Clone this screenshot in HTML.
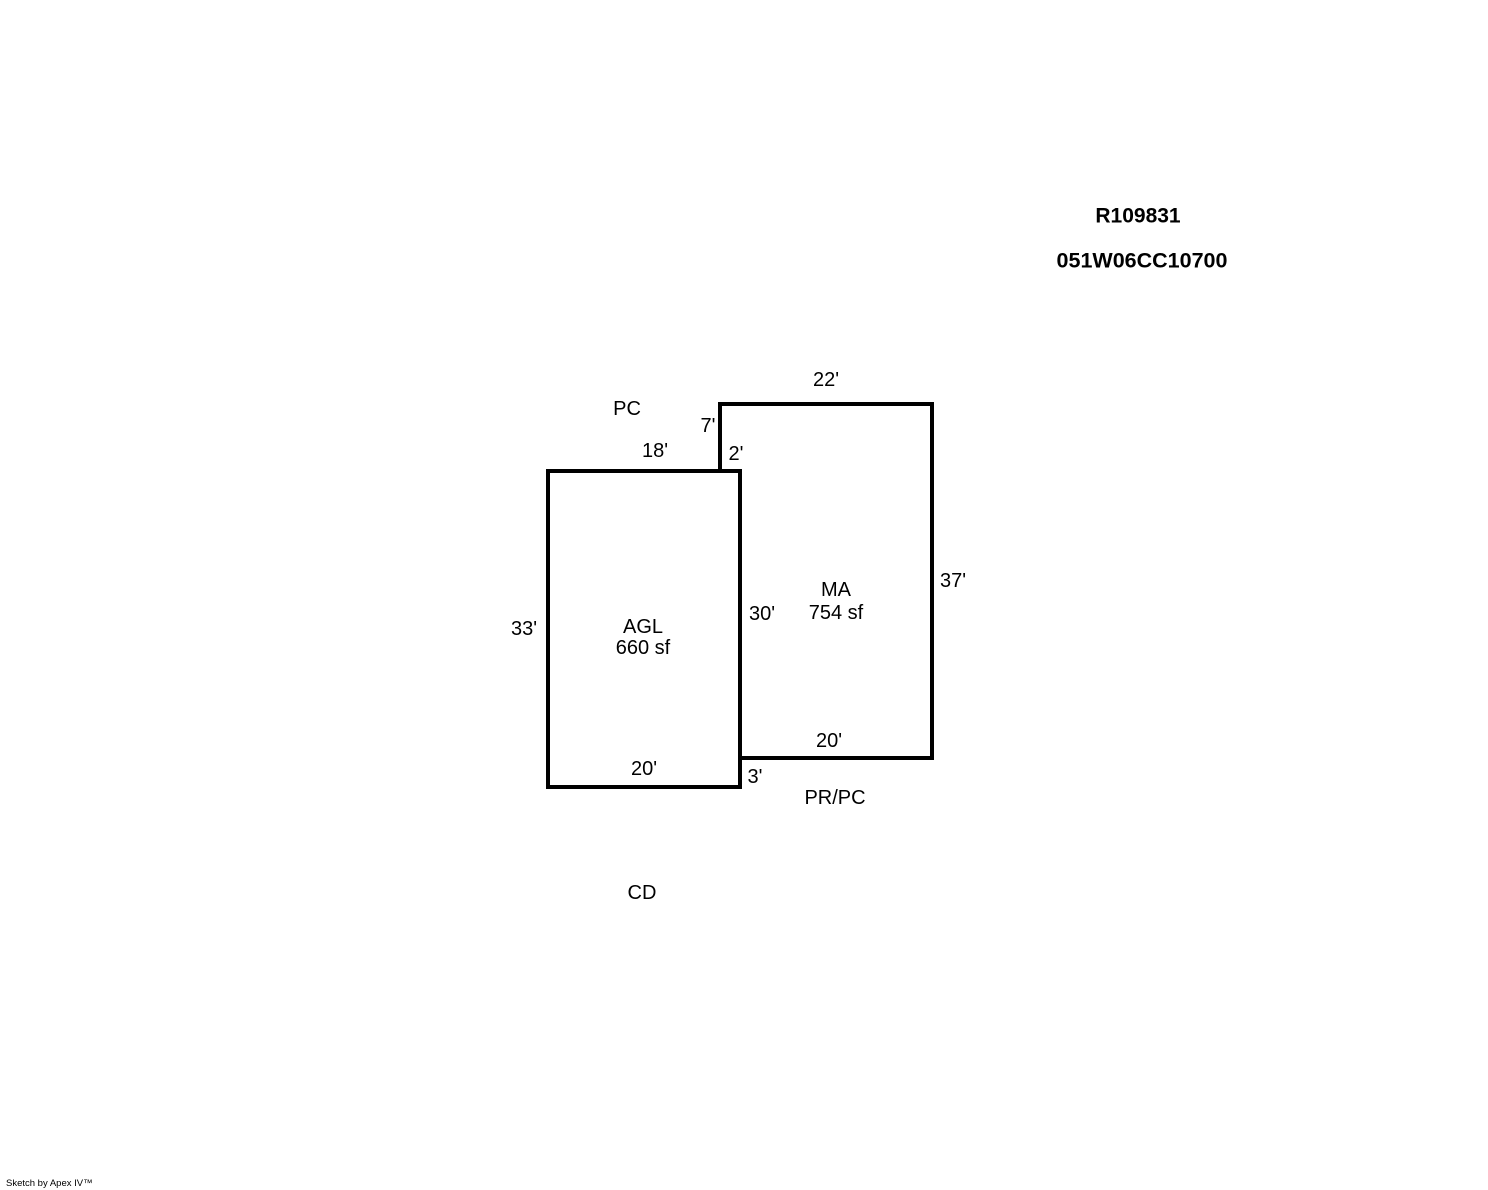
<!DOCTYPE html>
<html><head><style>
body{margin:0;width:1488px;height:1190px;background:#fff;overflow:hidden;font-family:"Liberation Sans",Arial,sans-serif;}
.t{position:absolute;font-size:20px;color:#000;white-space:nowrap;transform:translate(-50%,-50%);line-height:1;}
.c{text-align:center;}
</style></head><body>
<svg width="1488" height="1190" style="position:absolute;left:0;top:0">
<rect x="548" y="471" width="192" height="316" fill="none" stroke="#000" stroke-width="4"/>
<polyline points="740,758 932,758 932,404 720,404 720,471" fill="none" stroke="#000" stroke-width="4"/>
</svg>
<div class="t" style="left:1138px;top:216px;font-weight:bold;font-size:21px">R109831</div>
<div class="t" style="left:1142px;top:261px;font-weight:bold;font-size:21.5px">051W06CC10700</div>
<div class="t" style="left:826px;top:380px">22'</div>
<div class="t" style="left:627px;top:409px">PC</div>
<div class="t" style="left:708px;top:426px">7'</div>
<div class="t" style="left:655px;top:451px">18'</div>
<div class="t" style="left:736px;top:454px">2'</div>
<div class="t c" style="left:836px;top:602px;line-height:23px">MA<br>754 sf</div>
<div class="t" style="left:953px;top:581px">37'</div>
<div class="t" style="left:762px;top:614px">30'</div>
<div class="t" style="left:524px;top:629px">33'</div>
<div class="t c" style="left:643px;top:638px;line-height:21px">AGL<br>660 sf</div>
<div class="t" style="left:829px;top:741px">20'</div>
<div class="t" style="left:644px;top:769px">20'</div>
<div class="t" style="left:755px;top:777px">3'</div>
<div class="t" style="left:835px;top:798px">PR/PC</div>
<div class="t" style="left:642px;top:893px">CD</div>
<div style="position:absolute;left:6px;top:1178px;font-size:9.5px;">Sketch by Apex IV™</div>
</body></html>
